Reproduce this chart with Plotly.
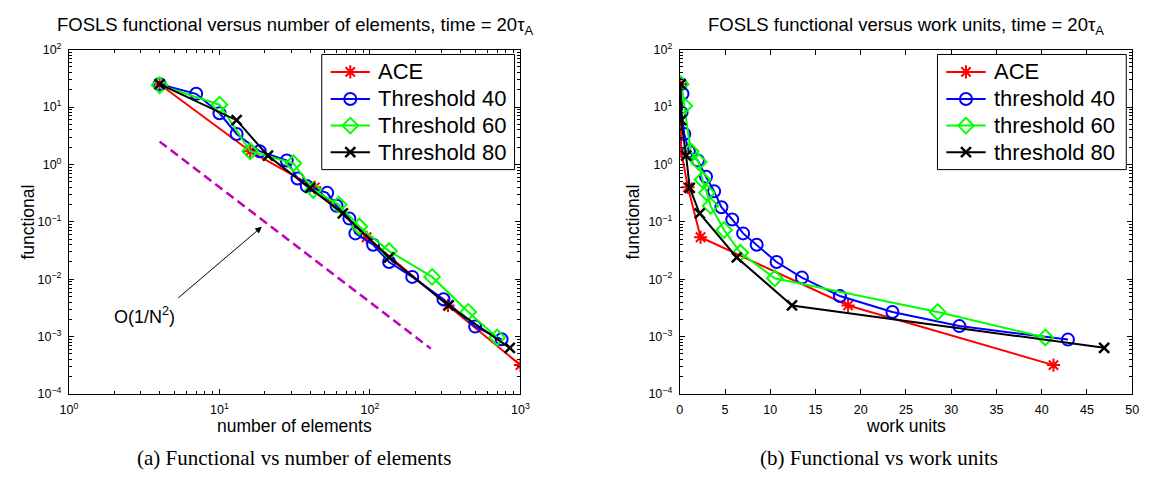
import numpy as np
import plotly.graph_objects as go

# ---- data: functional vs number of elements ----
ace_n = [4, 16, 43, 95, 330, 1000]
ace_f = [25, 1.7, 0.4, 0.054, 0.0035, 0.00032]

t40_n = [4, 7, 10, 13, 18.5, 28, 33, 38, 52, 60, 73, 80, 105, 134, 191, 308, 500, 750]
t40_f = [25, 17, 7.8, 3.4, 1.7, 1.17, 0.57, 0.42, 0.32, 0.19, 0.114, 0.063, 0.04, 0.02, 0.011, 0.0045, 0.0015, 0.0009]

t60_n = [4, 10, 16, 31, 42, 62, 85, 134, 259, 450, 700]
t60_f = [24, 11, 1.7, 1.05, 0.36, 0.2, 0.083, 0.031, 0.011, 0.0027, 0.00097]

t80_n = [4, 13, 21, 40, 66, 134, 333, 850]
t80_f = [25, 5.9, 1.42, 0.39, 0.14, 0.024, 0.0035, 0.00064]

# reference slope O(1/N^2)
ref_n = [4, 254]
ref_f = [2.5, 2.5 * (4 / 254) ** 2]

# ---- data: functional vs work units ----
ace_w = [0.05, 0.15, 0.9, 2.3, 18.6, 41.3]
ace_wf = [25, 1.7, 0.4, 0.054, 0.0035, 0.00032]

t40_w = [0.1, 0.3, 0.2, 0.5, 1.0, 2.0, 2.9, 3.8, 4.6, 5.8, 7.0, 8.5, 10.7, 13.5, 17.7, 23.5, 30.9, 42.9]
t40_wf = [25, 17, 8, 3.4, 1.7, 1.17, 0.61, 0.34, 0.18, 0.11, 0.063, 0.04, 0.02, 0.0107, 0.0051, 0.0027, 0.00153, 0.00089]

t60_w = [0.1, 0.5, 1.2, 2.1, 2.5, 3.0, 3.4, 4.9, 6.7, 10.5, 28.5, 40.4]
t60_wf = [25, 10.5, 1.7, 1.1, 0.54, 0.32, 0.19, 0.072, 0.029, 0.0104, 0.0027, 0.00097]

t80_w = [0.1, 0.15, 0.7, 1.1, 2.2, 6.3, 12.4, 46.9]
t80_wf = [25, 5.9, 1.42, 0.39, 0.14, 0.024, 0.0035, 0.00064]

y_tickvals = [1e-4, 1e-3, 1e-2, 1e-1, 1, 10, 100]
y_ticktext = ["10<sup>−4</sup>", "10<sup>−3</sup>", "10<sup>−2</sup>", "10<sup>−1</sup>",
              "10<sup>0</sup>", "10<sup>1</sup>", "10<sup>2</sup>"]
x_tickvals = [1, 10, 100, 1000]
x_ticktext = ["10<sup>0</sup>", "10<sup>1</sup>", "10<sup>2</sup>", "10<sup>3</sup>"]
work_ticks = list(range(0, 51, 5))

W, H = 1154, 494
FONT = "Liberation Sans"

RED, BLUE, GREEN, BLACK, MAG = "#ff0000", "#0000ff", "#00ff00", "#000000", "#bf00bf"

# name, colour, marker symbol, marker size, marker line width
styles = [
    ("ACE", RED, "asterisk-open", 11, 2),
    ("{} 40", BLUE, "circle-open", 12, 2),
    ("{} 60", GREEN, "diamond-open", 12, 2),
    ("{} 80", BLACK, "x-thin-open", 10, 2.5),
]

# pixel geometry of the two panels
X1 = (61, 520)
X2 = (682, 1142)
YT, YB = 42, 398

fig = go.Figure()

left = [(ace_n, ace_f), (t40_n, t40_f), (t60_n, t60_f), (t80_n, t80_f)]
right = [(ace_w, ace_wf), (t40_w, t40_wf), (t60_w, t60_wf), (t80_w, t80_wf)]


def series_trace(xs, ys, col, sym, size, mlw, xa, ya):
    return go.Scatter(
        x=xs, y=ys, mode="lines+markers", showlegend=False,
        line=dict(color=col, width=2),
        marker=dict(symbol=sym, size=size, color=col, line=dict(color=col, width=mlw)),
        xaxis=xa, yaxis=ya)


for (name, col, sym, size, mlw), (xs, ys) in zip(styles, left):
    fig.add_trace(series_trace(xs, ys, col, sym, size, mlw, "x", "y"))

fig.add_trace(go.Scatter(
    x=ref_n, y=ref_f, mode="lines", showlegend=False,
    line=dict(color=MAG, width=2.5, dash="9px,5px"), xaxis="x", yaxis="y"))

for (name, col, sym, size, mlw), (xs, ys) in zip(styles, right):
    fig.add_trace(series_trace(xs, ys, col, sym, size, mlw, "x2", "y2"))

ydom = [1 - YB / H, 1 - YT / H]
xdom1 = [X1[0] / W, X1[1] / W]
xdom2 = [X2[0] / W, X2[1] / W]

minor_log_y = [m * 10.0 ** k for k in range(-4, 2) for m in range(2, 10)]
minor_log_x = [m * 10.0 ** k for k in range(0, 3) for m in range(2, 10)]

axis_common = dict(
    showline=True, linecolor="black", linewidth=1, mirror="allticks",
    ticks="inside", ticklen=5, tickwidth=1, tickcolor="black",
    showgrid=False, zeroline=False, ticklabelstandoff=4,
    tickfont=dict(family=FONT, size=12.5, color="black"),
)
minor_common = dict(ticks="inside", ticklen=3, tickcolor="black", showgrid=False)

fig.update_layout(
    width=W, height=H, margin=dict(l=0, r=0, t=0, b=0),
    paper_bgcolor="white", plot_bgcolor="rgba(0,0,0,0)",
    font=dict(family=FONT, color="black"),
    showlegend=False,
    xaxis=dict(domain=xdom1, anchor="y", type="log", range=[0, 3],
               tickvals=x_tickvals, ticktext=x_ticktext,
               minor=dict(tickvals=minor_log_x, **minor_common), **axis_common),
    yaxis=dict(domain=ydom, anchor="x", type="log", range=[-4, 2],
               tickvals=y_tickvals, ticktext=y_ticktext,
               minor=dict(tickvals=minor_log_y, **minor_common), **axis_common),
    xaxis2=dict(domain=xdom2, anchor="y2", type="linear", range=[0, 50],
                tickvals=work_ticks, **axis_common),
    yaxis2=dict(domain=ydom, anchor="x2", type="log", range=[-4, 2],
                tickvals=y_tickvals, ticktext=y_ticktext,
                minor=dict(tickvals=minor_log_y, **minor_common), **axis_common),
    # full-figure pixel frame used for the legend glyphs
    xaxis3=dict(domain=[0, 1], anchor="y3", range=[0, W], visible=False, fixedrange=True),
    yaxis3=dict(domain=[0, 1], anchor="x3", range=[H, 0], visible=False, fixedrange=True),
)


def px(x):
    return x / W


def py(y):
    return 1 - y / H


# ---- boxed legends ----
leg_font = dict(family=FONT, size=22, color="black")
row_y = [65, 93, 120.5, 148]


def draw_legend(x0, x1, word):
    fig.add_shape(type="rect", xref="paper", yref="paper",
                  x0=px(x0), x1=px(x1), y0=py(47), y1=py(166),
                  line=dict(color="black", width=1), fillcolor="white", layer="below")
    for (name, col, sym, size, mlw), yy in zip(styles, row_y):
        fig.add_trace(go.Scatter(x=[x0 + 9, x0 + 49], y=[yy, yy], mode="lines",
                                 line=dict(color=col, width=2), showlegend=False,
                                 xaxis="x3", yaxis="y3", hoverinfo="skip"))
        fig.add_trace(go.Scatter(x=[x0 + 29], y=[yy], mode="markers", showlegend=False,
                                 marker=dict(symbol=sym, size=size, color=col,
                                             line=dict(color=col, width=mlw)),
                                 xaxis="x3", yaxis="y3", hoverinfo="skip"))
        fig.add_annotation(text=name.format(word), x=px(x0 + 55), y=py(yy),
                           xref="paper", yref="paper", xanchor="left", yanchor="middle",
                           showarrow=False, font=leg_font)


draw_legend(318, 514, "Threshold")
draw_legend(944, 1136, "threshold")

# ---- titles ----
title_font = dict(family=FONT, size=18.5, color="black")
fig.add_annotation(text="FOSLS functional versus number of elements, time = 20τ<sub>A</sub>",
                   x=px(sum(X1) / 2), y=py(18), xref="paper", yref="paper",
                   xanchor="center", yanchor="middle", showarrow=False, font=title_font)
fig.add_annotation(text="FOSLS functional versus work units, time = 20τ<sub>A</sub>",
                   x=px(sum(X2) / 2), y=py(18), xref="paper", yref="paper",
                   xanchor="center", yanchor="middle", showarrow=False, font=title_font)

# ---- axis labels ----
lab_font = dict(family=FONT, size=17.5, color="black")
ymid = (YT + YB) / 2
for text, x, y, ang in [
    ("number of elements", sum(X1) / 2, 431, 0),
    ("work units", sum(X2) / 2, 431, 0),
    ("functional", 19, ymid, -90),
    ("functional", X2[0] - 48, ymid, -90),
]:
    fig.add_annotation(text=text, x=px(x), y=py(y), xref="paper", yref="paper",
                       xanchor="center", yanchor="middle", textangle=ang,
                       showarrow=False, font=lab_font)

# ---- O(1/N^2) marker with arrow ----
fig.add_annotation(x=np.log10(19.1), y=np.log10(0.082), ax=np.log10(5.2), ay=np.log10(0.0045),
                   xref="x", yref="y", axref="x", ayref="y", text="", showarrow=True,
                   arrowhead=2, arrowsize=1.3, arrowwidth=1, arrowcolor="black")
fig.add_annotation(x=np.log10(3.16), y=np.log10(0.00234), xref="x", yref="y",
                   xanchor="center", yanchor="middle",
                   text="O(1/N<sup>2</sup>)", showarrow=False,
                   font=dict(family=FONT, size=18, color="black"))

# ---- sub-figure captions ----
cap_font = dict(family="Liberation Serif", size=21, color="black")
fig.add_annotation(text="(a) Functional vs number of elements", x=px(290), y=py(464),
                   xref="paper", yref="paper", xanchor="center", yanchor="middle",
                   showarrow=False, font=cap_font)
fig.add_annotation(text="(b) Functional vs work units", x=px(885), y=py(464),
                   xref="paper", yref="paper", xanchor="center", yanchor="middle",
                   showarrow=False, font=cap_font)

fig.write_html("out.html")
